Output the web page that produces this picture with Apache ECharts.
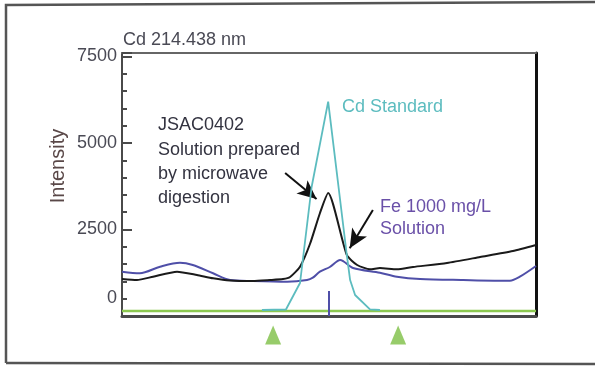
<!DOCTYPE html>
<html>
<head>
<meta charset="utf-8">
<script src="https://cdn.jsdelivr.net/npm/echarts@6/dist/echarts.min.js"></script>
<style>
html,body{margin:0;padding:0;background:#fff;}
#c{width:595px;height:367px;}
</style>
</head>
<body>
<div id="c"></div>
<script>
// x: scan position (0..100 across the window, 50 = 214.438 nm); y: intensity
var yTicks = [0, 2500, 5000, 7500];
var blackCurve = [[0,1069],[3.6,1040],[7.5,1136],[13.3,1280],[18.1,1185],[22.0,1090],[26.1,1026],[31.6,1011],[35.7,1040],[38.9,1069],[40.6,1127],[43.0,1425],[45.4,2080],[47.8,2970],[49.8,3555],[54.3,1763],[56.8,1474],[59.9,1350],[62.3,1387],[66.4,1350],[70.3,1416],[78.5,1532],[86.5,1705],[94.4,1878],[100,2052]];
var cdStandard = [[33.8,173],[39.6,188],[43.0,954],[45.8,3728],[49.8,6193],[54.3,1763],[55.1,1040],[56.3,607],[59.9,194],[62.3,173]];
var feSolution = [[0,1280],[4.3,1234],[9.2,1425],[14.0,1540],[17.1,1474],[22.0,1234],[26.1,1040],[31.6,1011],[39.9,991],[44.7,1040],[46.1,1107],[47.8,1280],[50.2,1416],[52.7,1618],[55.8,1387],[62.3,1251],[66.4,1136],[72.0,1069],[82.4,1040],[93.7,1020],[96.1,1136],[100,1445]];
var baseline = [[0,145],[100,145]];
var peakMarker = [[50,0],[50,720]];
var windowMarkers = [[36.5,0],[66.7,0]];
var arrows = [[[39.4,4133],[47.0,3380]],[[60.6,3063],[55.0,1960]]];

var FONT = "'Liberation Sans', Arial, sans-serif";
var chart = echarts.init(document.getElementById('c'), null, {renderer:'canvas'});
function txt(x, y, s, color, size){
  return {type:'text', x:x, y:y, style:{text:s, fill:color, font: size+'px '+FONT, textVerticalAlign:'middle', textAlign:'left'}};
}
var option = {
  animation:false,
  backgroundColor:'#fff',
  grid:{left:122, right:59, top:53, bottom:51},
  xAxis:[
    {type:'value', min:0, max:100, position:'bottom',
     axisLine:{show:true, onZero:false, lineStyle:{color:'#4a4a4a', width:3}}, axisTick:{show:false}, axisLabel:{show:false}, splitLine:{show:false}},
    {type:'value', min:0, max:100, position:'top',
     axisLine:{show:true, onZero:false, lineStyle:{color:'#666', width:2}}, axisTick:{show:false}, axisLabel:{show:false}, splitLine:{show:false}}
  ],
  yAxis:[
    {type:'value', min:0, max:7600, interval:500, position:'left',
     axisLine:{show:true, onZero:false, lineStyle:{color:'#4a4a4a', width:2}},
     axisTick:{show:true, inside:true, length:5, lineStyle:{color:'#4a4a4a', width:2}},
     axisLabel:{margin:5, color:'#4a4a55', fontSize:18, fontFamily:FONT,
       formatter:function(v){ if(v===0) return '{z|0}'; return (yTicks.indexOf(v)>=0)? String(v) : ''; },
       rich:{z:{fontSize:18, fontFamily:FONT, color:'#4a4a55', padding:[0,0,36,0]}}},
     splitLine:{show:false}},
    {type:'value', min:0, max:7600, interval:2500, position:'left', offset:0,
     axisLine:{show:false},
     axisTick:{show:true, inside:true, length:10, lineStyle:{color:'#4a4a4a', width:2}},
     axisLabel:{show:false}, splitLine:{show:false}},
    {type:'value', min:0, max:7600, position:'right',
     axisLine:{show:true, onZero:false, lineStyle:{color:'#111', width:3}},
     axisTick:{show:false}, axisLabel:{show:false}, splitLine:{show:false}}
  ],
  series:[
    {type:'line', data:baseline, symbol:'none', lineStyle:{color:'#8cc850', width:2.5}, z:2},
    {type:'line', data:feSolution, symbol:'none', smooth:0.3, lineStyle:{color:'#4f4fa8', width:2}, z:3},
    {type:'line', data:blackCurve, symbol:'none', smooth:0.2, lineStyle:{color:'#1a1a1a', width:2}, z:4,
     markLine:{silent:true, symbol:['none','arrow'], symbolSize:[13,19], label:{show:false},
       lineStyle:{color:'#111', width:2, type:'solid'},
       data: arrows.map(function(a){ return [{coord:a[0]},{coord:a[1]}]; })}},
    {type:'line', data:cdStandard, symbol:'none', lineStyle:{color:'#5cbcbf', width:1.8}, z:5},
    {type:'line', data:peakMarker, symbol:'none', lineStyle:{color:'#4f4fa8', width:2}, z:6},
    {type:'scatter', data:windowMarkers, symbol:'triangle', symbolSize:[16,19], symbolOffset:[0,19], clip:false,
     itemStyle:{color:'#7dbf45'}, z:6}
  ],
  graphic:[
    {type:'polyline', shape:{points:[[6,363],[6,5],[595,2]]}, style:{stroke:'#555', lineWidth:2.5, fill:null}},
    {type:'line', shape:{x1:6, y1:363, x2:595, y2:364}, style:{stroke:'#555', lineWidth:2.5}},
    txt(123, 40, 'Cd 214.438 nm', '#4a4a55', 18),
    {type:'text', x:58, y:166, rotation:Math.PI/2, style:{text:'Intensity', fill:'#5a4848', font:'20px '+FONT, textAlign:'center', textVerticalAlign:'middle'}},
    txt(158, 125, 'JSAC0402', '#333340', 18),
    txt(158, 150, 'Solution prepared', '#333340', 18),
    txt(158, 174, 'by microwave', '#333340', 18),
    txt(158, 198, 'digestion', '#333340', 18),
    txt(342, 107, 'Cd Standard', '#5cbcbf', 18),
    txt(380, 207, 'Fe 1000 mg/L', '#6a50a8', 18),
    txt(380, 229, 'Solution', '#6a50a8', 18)
  ]
};
chart.setOption(option);
</script>
</body>
</html>
